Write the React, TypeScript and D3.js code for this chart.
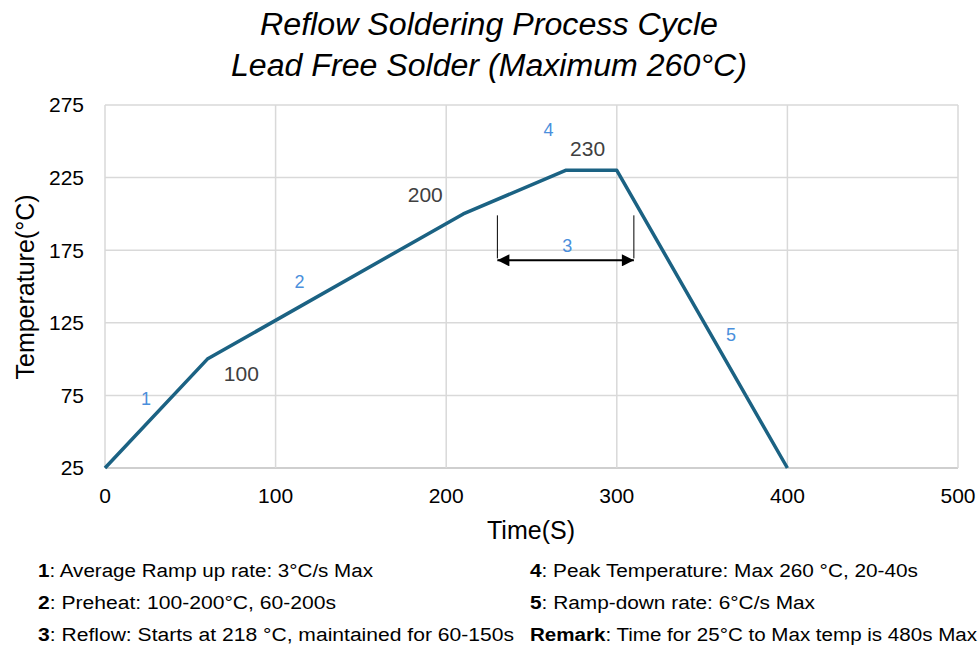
import { useEffect, useRef } from "react";
import * as d3 from "d3";

// reflow profile (time in s, temperature in °C)
const timeS = [0, 60, 210, 270, 300, 400];
const tempC = [25, 100, 200, 230, 230, 25];

const xTicks = [0, 100, 200, 300, 400, 500];
const yTicks = [25, 75, 125, 175, 225, 275];

// labels shown next to the break points
const valueIdx = [1, 2, 3];
const valueDx = [34, -38, 22];
const valueDy = [15, -19, -22];

// phase numbers, placed in data coords
const phaseNames = ["1", "2", "3", "4", "5"];
const phaseT = [24, 114, 271, 260, 367];
const phaseV = [73, 153, 178, 258, 117];

// reflow window arrow
const arrowFrom = 230;
const arrowTo = 310;
const arrowAt = 168;
const arrowTickTop = 199;

const notesLeft = [
  ["1", ": Average Ramp up rate: 3°C/s Max", 335],
  ["2", ": Preheat: 100-200°C, 60-200s", 298],
  ["3", ": Reflow: Starts at 218 °C, maintained for 60-150s", 476],
];
const notesRight = [
  ["4", ": Peak Temperature: Max 260 °C, 20-40s", 388],
  ["5", ": Ramp-down rate: 6°C/s Max", 285],
  ["Remark", ": Time for 25°C to Max temp is 480s Max", 447],
];

const W = 980;
const H = 645;
const margin = { top: 105, right: 22, bottom: 177, left: 105 };

const App = () => {
  const ref = useRef(null);

  useEffect(() => {
    const svg = d3.select(ref.current);
    svg.selectAll("*").remove();

    const x = d3.scaleLinear().domain([0, 500]).range([margin.left, W - margin.right]);
    const y = d3.scaleLinear().domain([25, 275]).range([H - margin.bottom, margin.top]);

    const sans = "'Liberation Sans', Arial, sans-serif";

    // title
    const title = svg.append("g").attr("font-family", sans).attr("font-style", "italic").attr("font-size", 31).attr("fill", "#000");
    title.append("text").attr("x", 489).attr("y", 35).attr("text-anchor", "middle")
      .attr("textLength", 458).attr("lengthAdjust", "spacingAndGlyphs").text("Reflow Soldering Process Cycle");
    title.append("text").attr("x", 489).attr("y", 76).attr("text-anchor", "middle")
      .attr("textLength", 516).attr("lengthAdjust", "spacingAndGlyphs").text("Lead Free Solder (Maximum 260°C)");

    // grid
    svg.append("g").selectAll("line").data(yTicks).join("line")
      .attr("x1", x(0)).attr("x2", x(500))
      .attr("y1", (d) => y(d)).attr("y2", (d) => y(d))
      .attr("stroke", (d) => (d === 25 ? "#bfbfbf" : "#d9d9d9")).attr("stroke-width", 1.5);
    svg.append("g").selectAll("line").data(xTicks).join("line")
      .attr("x1", (d) => x(d)).attr("x2", (d) => x(d))
      .attr("y1", y(275)).attr("y2", y(25))
      .attr("stroke", "#d9d9d9").attr("stroke-width", 1.5);

    // tick labels
    svg.append("g").selectAll("text").data(yTicks).join("text")
      .attr("x", 84).attr("y", (d) => y(d)).attr("dy", "0.35em")
      .attr("text-anchor", "end").attr("font-family", sans).attr("font-size", 21).attr("fill", "#000")
      .text((d) => d);
    svg.append("g").selectAll("text").data(xTicks).join("text")
      .attr("x", (d) => x(d)).attr("y", 503)
      .attr("text-anchor", "middle").attr("font-family", sans).attr("font-size", 21).attr("fill", "#000")
      .text((d) => d);

    // axis titles
    svg.append("text").attr("transform", "translate(34,287) rotate(-90)")
      .attr("text-anchor", "middle").attr("font-family", sans).attr("font-size", 25).attr("fill", "#000")
      .text("Temperature(°C)");
    svg.append("text").attr("x", 531).attr("y", 539)
      .attr("text-anchor", "middle").attr("font-family", sans).attr("font-size", 25).attr("fill", "#000")
      .text("Time(S)");

    // profile line
    const pts = timeS.map((t, i) => [t, tempC[i]] as [number, number]);
    const line = d3.line<[number, number]>().x((d) => x(d[0])).y((d) => y(d[1]));
    svg.append("path").attr("d", line(pts)).attr("fill", "none")
      .attr("stroke", "#1b6283").attr("stroke-width", 3.5).attr("stroke-linejoin", "round");

    // value labels
    svg.append("g").selectAll("text").data(valueIdx).join("text")
      .attr("x", (d, i) => x(timeS[d]) + valueDx[i]).attr("y", (d, i) => y(tempC[d]) + valueDy[i])
      .attr("dy", "0.35em").attr("text-anchor", "middle")
      .attr("font-family", sans).attr("font-size", 21).attr("fill", "#404040")
      .text((d) => tempC[d]);

    // phase numbers
    svg.append("g").selectAll("text").data(phaseNames).join("text")
      .attr("x", (d, i) => x(phaseT[i])).attr("y", (d, i) => y(phaseV[i]))
      .attr("dy", "0.35em").attr("text-anchor", "middle")
      .attr("font-family", sans).attr("font-size", 18).attr("fill", "#4a8fdc")
      .text((d) => d);

    // reflow arrow
    svg.append("defs").append("marker").attr("id", "ah")
      .attr("viewBox", "0 0 10 10").attr("refX", 10).attr("refY", 5)
      .attr("markerWidth", 7).attr("markerHeight", 6).attr("markerUnits", "strokeWidth")
      .attr("orient", "auto-start-reverse")
      .append("path").attr("d", "M0,0 L10,5 L0,10 z").attr("fill", "#000");
    svg.append("line")
      .attr("x1", x(arrowFrom)).attr("x2", x(arrowTo)).attr("y1", y(arrowAt)).attr("y2", y(arrowAt))
      .attr("stroke", "#000").attr("stroke-width", 2)
      .attr("marker-start", "url(#ah)").attr("marker-end", "url(#ah)");
    svg.append("g").selectAll("line").data([arrowFrom, arrowTo]).join("line")
      .attr("x1", (d) => x(d)).attr("x2", (d) => x(d))
      .attr("y1", y(arrowTickTop)).attr("y2", y(arrowAt) - 2)
      .attr("stroke", "#000").attr("stroke-width", 1);

    // notes
    const drawNotes = (rows: (string | number)[][], x0: number) => {
      rows.forEach((r, i) => {
        const t = svg.append("text").attr("x", x0).attr("y", 577 + i * 32)
          .attr("textLength", r[2]).attr("lengthAdjust", "spacingAndGlyphs")
          .attr("font-family", sans).attr("font-size", 18).attr("fill", "#000");
        t.append("tspan").attr("font-weight", "bold").text(r[0]);
        t.append("tspan").text(r[1]);
      });
    };
    drawNotes(notesLeft, 38);
    drawNotes(notesRight, 530);
  }, []);

  return (
    <svg
      ref={ref}
      width={W}
      height={H}
      style={{ position: "absolute", left: 0, top: 0, background: "#fff" }}
    ></svg>
  );
};

export default App;
